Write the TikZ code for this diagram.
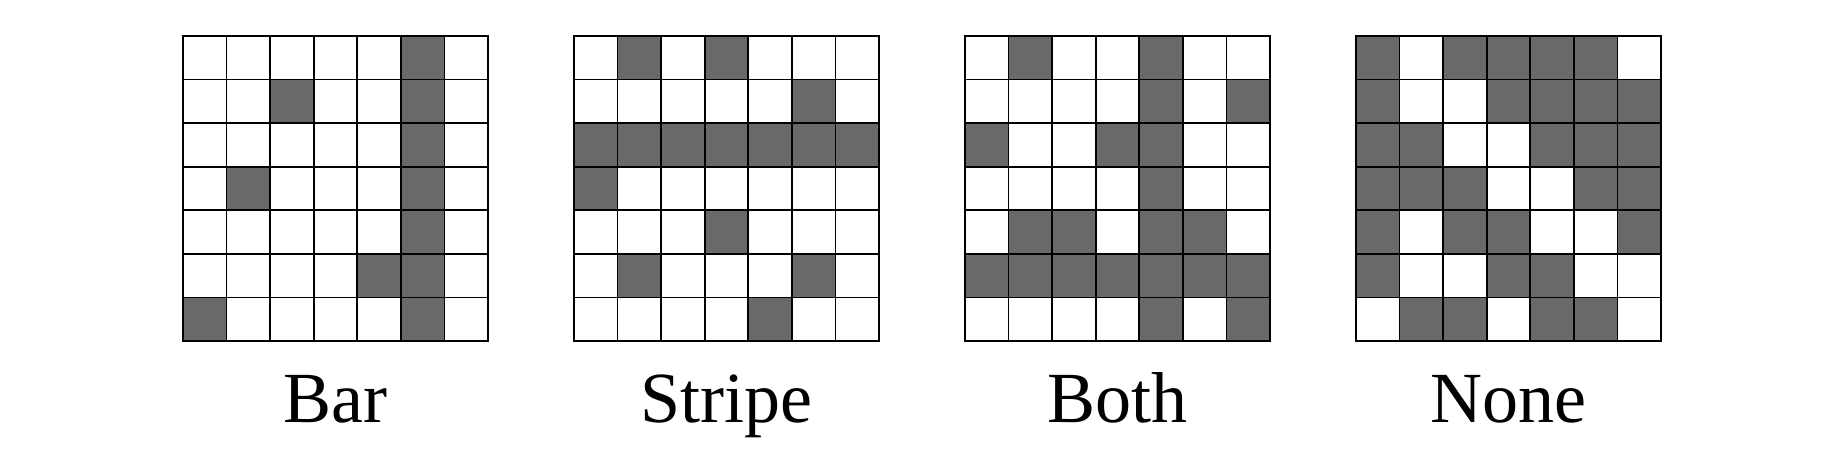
\documentclass[tikz,border=0pt]{standalone}
\usepackage{fontspec}
\setmainfont{Liberation Serif}
\definecolor{cellgray}{RGB}{105,105,105}
\newcommand\drawpanel[3]{%
  \begin{scope}[shift={(#1,420)}, x=43.571pt, y=-43.571pt]
    \foreach \c/\r in {#2} \fill[cellfill] (\c,\r) rectangle ++(1,1);
    \foreach \i in {0,...,7} {
      \draw[gridline] (\i,0) -- (\i,7);
      \draw[gridline] (0,\i) -- (7,\i);
    }
  \end{scope}
  \node[caption] (#3) at (#1+152.5,34) {#3};
}
\begin{document}
\begin{tikzpicture}[x=1pt,y=1pt,
  cellfill/.style={fill=cellgray},
  gridline/.style={line width=1.8pt, black, line cap=rect},
  caption/.style={font=\fontsize{72}{80}\selectfont, anchor=base, inner sep=0pt}]
\useasboundingbox (0,0) rectangle (1840,456);
\drawpanel{183}{5/0,2/1,5/1,5/2,1/3,5/3,5/4,4/5,5/5,0/6,5/6}{Bar}
\drawpanel{574}{1/0,3/0,5/1,0/2,1/2,2/2,3/2,4/2,5/2,6/2,0/3,3/4,1/5,5/5,4/6}{Stripe}
\drawpanel{965}{1/0,4/0,4/1,6/1,0/2,3/2,4/2,4/3,1/4,2/4,4/4,5/4,0/5,1/5,2/5,3/5,4/5,5/5,6/5,4/6,6/6}{Both}
\drawpanel{1356}{0/0,2/0,3/0,4/0,5/0,0/1,3/1,4/1,5/1,6/1,0/2,1/2,4/2,5/2,6/2,0/3,1/3,2/3,5/3,6/3,0/4,2/4,3/4,6/4,0/5,3/5,4/5,1/6,2/6,4/6,5/6}{None}
\end{tikzpicture}
\end{document}
